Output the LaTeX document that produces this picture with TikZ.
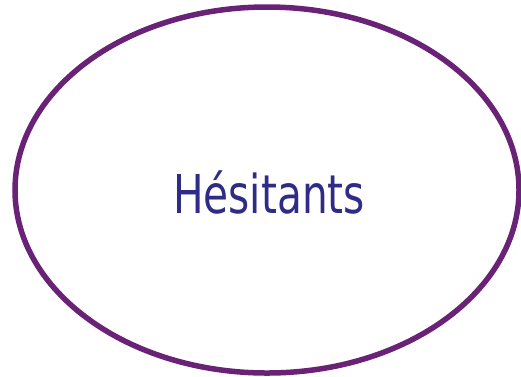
\documentclass[tikz,border=0pt]{standalone}
\usepackage{fontspec}
\setmainfont{DejaVu Sans}
\usepackage{xcolor}
\definecolor{ringPurple}{HTML}{6A2277}
\definecolor{textBlue}{HTML}{2E2C86}

\begin{document}
\begin{tikzpicture}[x=1pt, y=-1pt]
  \useasboundingbox (0,0) rectangle (521,376);
  \draw[ringPurple, line width=5.5pt] (267,190) ellipse [x radius=252, y radius=183];
  \node[text=textBlue, font=\fontsize{53.5}{60}\selectfont, xscale=0.76, transform shape] (hesitants) at (269,192) {Hésitants};
\end{tikzpicture}
\end{document}
